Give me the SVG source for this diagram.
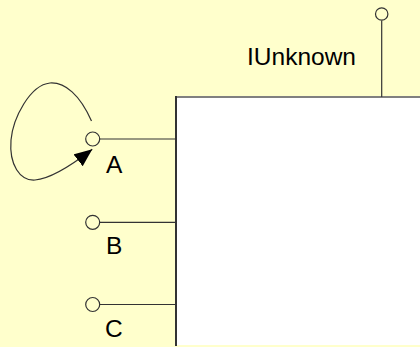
<svg xmlns="http://www.w3.org/2000/svg" width="420" height="347" viewBox="0 0 420 347">
<style>
.ln{stroke:#333;stroke-width:1.2;fill:none}
.pin{stroke:#333;stroke-width:1.2;fill:#FFFFCC}
.lbl{font-family:"Liberation Sans",Arial,sans-serif;font-size:24.5px;fill:#000}
</style>
<defs>
<marker id="arr" viewBox="0 0 18 15" refX="18" refY="7.5" markerWidth="18" markerHeight="15" markerUnits="userSpaceOnUse" orient="auto">
<path d="M0,0 L18,7.5 L0,15 z" fill="#000"/>
</marker>
</defs>
<rect width="420" height="347" fill="#FFFFCC"/>
<g id="component">
<rect x="176" y="97" width="250" height="248" fill="#fff"/>
<line x1="175" y1="97" x2="420" y2="97" stroke="#808080" stroke-width="2"/>
<line x1="176" y1="96" x2="176" y2="346" stroke="#333" stroke-width="2"/>
</g>
<g id="connectors">
<line class="ln" x1="381.7" y1="20.5" x2="381.7" y2="97"/>
<line class="ln" x1="99.5" y1="139" x2="176" y2="139"/>
<line class="ln" x1="99.5" y1="222.3" x2="176" y2="222.3"/>
<line class="ln" x1="99.5" y1="304.5" x2="176" y2="304.5"/>
<path class="ln" d="M91.5,121 C80,95 65,82 50,83 C30,85 13,118 11,140 C9,165 20,181 35,180 C50,179 72,165 92.3,149.3" marker-end="url(#arr)"/>
</g>
<g id="iunknown">
<circle class="pin" cx="381.7" cy="14" r="6.2"/>
<text class="lbl" x="247" y="65">IUnknown</text>
</g>
<g id="a">
<circle class="pin" cx="92.7" cy="139" r="7"/>
<text class="lbl" x="106" y="173">A</text>
</g>
<g id="b">
<circle class="pin" cx="92.7" cy="222.3" r="7"/>
<text class="lbl" x="106" y="254">B</text>
</g>
<g id="c">
<circle class="pin" cx="92.7" cy="304.5" r="7"/>
<text class="lbl" x="105" y="337">C</text>
</g>
</svg>
